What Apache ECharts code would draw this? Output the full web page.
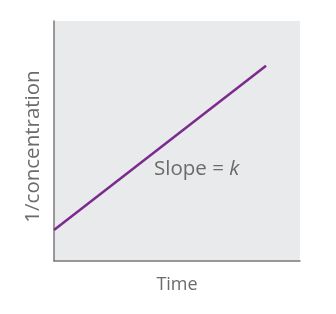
<!DOCTYPE html>
<html><head><meta charset="utf-8">
<script src="https://cdn.jsdelivr.net/npm/echarts@6/dist/echarts.min.js"></script>
<style>html,body{margin:0;padding:0;background:#fff}#c{width:336px;height:314px}</style>
</head><body><div id="c"></div>
<script>
const xValues = [0, 86.2];
const yValues = [12.9, 81.4];
const xName = 'Time';
const yName = '1/concentration';
const annotation = 'Slope = ';
const annotationVar = 'k';

const chart = echarts.init(document.getElementById('c'));
const font = '"Open Sans", "Noto Sans", sans-serif';
chart.setOption({
  animation: false,
  grid: {left: 54, right: 36, top: 21, bottom: 53, show: true, backgroundColor: '#e9eaec', borderWidth: 0},
  xAxis: {type: 'value', min: 0, max: 100, name: xName, nameLocation: 'middle', nameGap: 15,
    nameTextStyle: {fontSize: 18, color: '#6b6b6b', fontFamily: font, verticalAlign: 'top'},
    axisLine: {show: true, lineStyle: {color: '#7a7a7a', width: 1.5}},
    axisTick: {show: false}, axisLabel: {show: false}, splitLine: {show: false}},
  yAxis: {type: 'value', min: 0, max: 100, name: yName, nameLocation: 'middle', nameGap: 10,
    nameTextStyle: {fontSize: 20.5, color: '#6b6b6b', fontFamily: font, padding: [0, 11, 0, 0]},
    axisLine: {show: true, lineStyle: {color: '#7a7a7a', width: 1.5}},
    axisTick: {show: false}, axisLabel: {show: false}, splitLine: {show: false}},
  series: [{type: 'line', data: xValues.map((x, i) => [x, yValues[i]]), symbol: 'none',
    lineStyle: {color: '#7b2a8e', width: 2.5}, silent: true}],
  graphic: [{type: 'text', left: 154, top: 159, style: {
    text: annotation + '{i|' + annotationVar + '}', fontSize: 20.5, fill: '#6b6b6b', fontFamily: font,
    rich: {i: {fontStyle: 'italic', fontSize: 20.5, fill: '#6b6b6b', fontFamily: font}}}}]
});
</script></body></html>
